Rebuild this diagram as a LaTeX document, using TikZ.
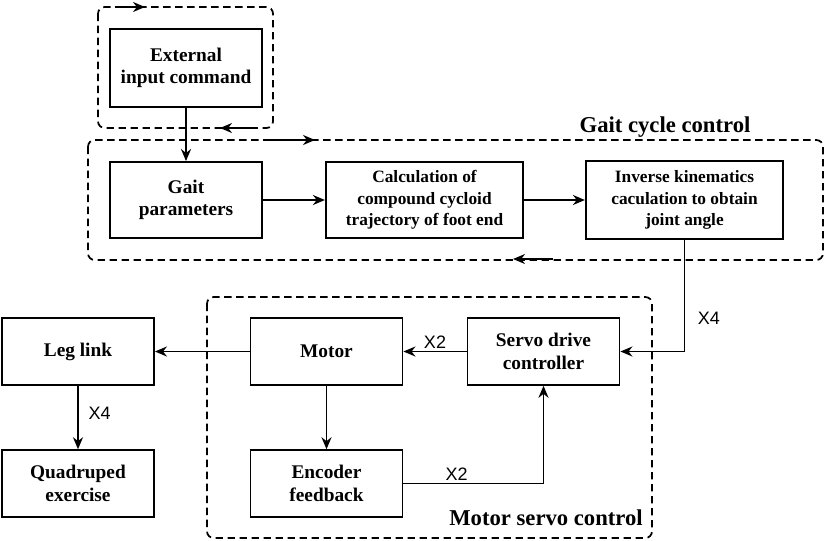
\documentclass[tikz,border=0pt]{standalone}
\usepackage{fontspec}
\setmainfont{Liberation Serif}
\newfontfamily\labelfont{Liberation Sans}
\usetikzlibrary{arrows.meta}

\begin{document}
\begin{tikzpicture}[x=0.75pt, y=-0.75pt,
  block/.style={draw, line width=1.4pt, align=center, inner sep=0pt,
    font=\bfseries\fontsize{14.5}{17}\selectfont},
  smallblock/.style={block, font=\bfseries\fontsize{13}{16}\selectfont},
  flow/.style={line width=1.4pt, -{Stealth[length=9pt, width=7.5pt]}},
  group/.style={line width=1.3pt, dash pattern=on 5.5pt off 3.5pt, rounded corners=5pt},
  mult/.style={font=\labelfont\fontsize{13.5}{15}\selectfont},
  title/.style={font=\bfseries\fontsize{17}{20}\selectfont}]

\useasboundingbox (0,0) rectangle (827,540);

\draw [group] (98,7) rectangle (273,128);
\draw [group] (88,140) rectangle (823,260);
\draw [group] (207,297) rectangle (652,538);
\draw [flow] (122,7) -- (145,7);
\draw [flow] (258,128) -- (220,128);
\draw [flow] (270,140) -- (315,140);
\draw [flow] (553,259) -- (513,259);

\node [block, minimum width=114pt, minimum height=58.5pt] (ext) at (186,68) {External\\input command};
\node [block, minimum width=114pt, minimum height=57pt] (gait) at (186,200) {Gait\\parameters};
\node [smallblock, minimum width=148pt, minimum height=57pt] (calc) at (424.5,200) {Calculation of\\compound cycloid\\trajectory of foot end};
\node [smallblock, minimum width=148pt, minimum height=58pt] (ik) at (684.5,200) {Inverse kinematics\\caculation to obtain\\joint angle};
\node [block, minimum width=114pt, minimum height=50pt] (servo) at (543.5,351.5) {Servo drive\\controller};
\node [block, minimum width=114pt, minimum height=50pt] (motor) at (326.5,351.5) {Motor};
\node [block, minimum width=114pt, minimum height=50pt] (enc) at (326.5,483.5) {Encoder\\feedback};
\node [block, minimum width=114pt, minimum height=50pt] (leg) at (78,351.5) {Leg link};
\node [block, minimum width=114pt, minimum height=50pt] (quad) at (78,483.5) {Quadruped\\exercise};

\node [title] (gaitlabel) at (665,127) {Gait cycle control};
\node [title] (servolabel) at (546,518) {Motor servo control};

\draw [flow] (ext) -- (gait);
\draw [flow] (gait) -- (calc);
\draw [flow] (calc) -- (ik);
\draw [flow] (ik.south) |- (servo.east) node [mult, pos=.35, right, xshift=6pt] {X4};
\draw [flow] (servo) -- (motor) node [mult, midway, above, yshift=-2pt] {X2};
\draw [flow] (motor) -- (leg);
\draw [flow] (leg) -- (quad) node [mult, midway, right, xshift=4pt, yshift=3pt] {X4};
\draw [flow] (motor) -- (enc);
\draw [flow] (enc.east) -| (servo.south) node [mult, pos=.19, above, yshift=-2pt] {X2};

\end{tikzpicture}
\end{document}
